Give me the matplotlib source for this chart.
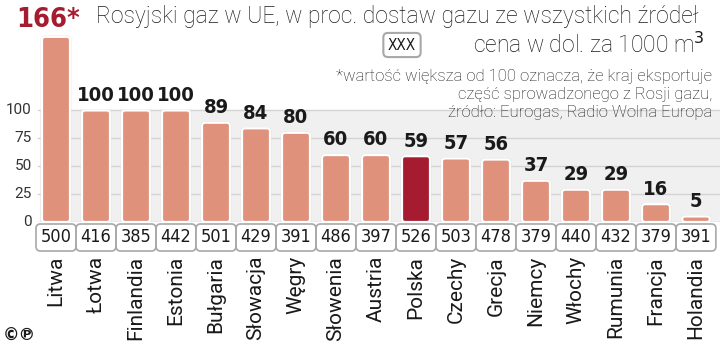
import numpy as np
from matplotlib import pyplot as plt
from matplotlib.patches import FancyBboxPatch
import matplotlib.transforms as mtransforms

# data
countries = ["Litwa", "Łotwa", "Finlandia", "Estonia", "Bułgaria", "Słowacja", "Węgry",
             "Słowenia", "Austria", "Polska", "Czechy", "Grecja", "Niemcy", "Włochy",
             "Rumunia", "Francja", "Holandia"]
share = [166, 100, 100, 100, 89, 84, 80, 60, 60, 59, 57, 56, 37, 29, 29, 16, 5]
price = [500, 416, 385, 442, 501, 429, 391, 486, 397, 526, 503, 478, 379, 440, 432, 379, 391]
yticks = [0, 25, 50, 75, 100]
highlight = "Polska"

title = "Rosyjski gaz w UE, w proc. dostaw gazu ze wszystkich źródeł"
legend_txt = "cena w dol. za 1000 m$^3$"
note = ["*wartość większa od 100 oznacza, że kraj eksportuje",
        "część sprowadzonego z Rosji gazu,",
        "źródło: Eurogas, Radio Wolna Europa"]

salmon = "#E0917B"
dark = "#A51C30"
light = ["Roboto", "DejaVu Sans"]
cond = dict(family="DejaVu Sans", stretch="condensed")

fig = plt.figure(figsize=(7.2, 3.45), dpi=100)
ax = fig.add_axes([0, 123 / 345, 1, 222 / 345])
x = np.arange(len(countries))
ax.set_xlim(-1.4, 16.6)
ax.set_ylim(0, 199)
ax.axis("off")

# grey band + grid
ax.axhspan(0, 100, xmin=40 / 720, xmax=1, color="#F0F0F0", zorder=0)
for t in yticks:
    ax.axhline(t, xmin=38 / 720, xmax=1, color="#D4D4D4", lw=1, zorder=0.5)
    ax.text(-0.6, t, str(t), ha="right", va="center", fontsize=11,
            family=light, color="#333333")

bars = ax.bar(x, share, width=0.7, alpha=0)
asp = 40 / 1.115
for b, c in zip(bars, countries):
    fc = dark if c == highlight else salmon
    x0, w, h = b.get_x(), b.get_width(), b.get_height()
    shadow = FancyBboxPatch((x0 - 0.03, -1), w + 0.06, h + 2,
                            boxstyle="round,pad=0,rounding_size=0.1",
                            mutation_aspect=asp, fc="#CFCFCF", ec="none", zorder=2)
    body = FancyBboxPatch((x0, 0), w, h,
                          boxstyle="round,pad=0,rounding_size=0.08",
                          mutation_aspect=asp, fc=fc, ec="white", lw=1.6, zorder=3)
    ax.add_patch(shadow)
    ax.add_patch(body)

# value labels
for xi, v in zip(x[1:], share[1:]):
    ax.text(xi, v + 5, str(v), ha="center", va="bottom", fontsize=14.5,
            weight="bold", color="#1a1a1a", **cond)
ax.text(x[0] - 0.2, 181, f"{share[0]}*", ha="center", va="center", fontsize=19.5,
        weight="bold", color=dark, **cond)

# price boxes and country names below the axis
trans = mtransforms.blended_transform_factory(ax.transData, fig.transFigure)
for xi, p, c in zip(x, price, countries):
    ax.text(xi, 1 - 237.5 / 345, str(p), transform=trans, ha="center", va="center",
            fontsize=13, color="#1a1a1a", clip_on=False, **cond,
            bbox=dict(boxstyle="round,pad=0.25,rounding_size=0.25", fc="white",
                      ec="#A8A8A8", lw=1.2))
    ax.text(xi, 1 - 256 / 345, c, transform=trans, rotation=90, ha="center", va="top",
            fontsize=15, family=light, color="#1a1a1a", clip_on=False)

# title, legend, note
fig.text(96 / 720, 1 - 17 / 345, title, ha="left", va="center", fontsize=16.5,
         family=light, weight="light", color="#1a1a1a")
fig.text(402 / 720, 1 - 45 / 345, "XXX", ha="center", va="center", fontsize=11,
         color="#1a1a1a", **cond,
         bbox=dict(boxstyle="round,pad=0.3,rounding_size=0.3", fc="white",
                   ec="#A8A8A8", lw=1.5))
fig.text(705 / 720, 1 - 45 / 345, legend_txt, ha="right", va="center", fontsize=16.5,
         family=light, weight="light", color="#1a1a1a")
for i, line in enumerate(note):
    fig.text(712 / 720, 1 - (77 + 18 * i) / 345, line, ha="right", va="center",
             fontsize=12, family=light, weight="light", color="#1a1a1a")

fig.text(3 / 720, 1 - 336 / 345, "©℗", ha="left", va="center", fontsize=12,
         family="DejaVu Sans", weight="bold", color="#1a1a1a")

fig.savefig("out.png", dpi=100)
